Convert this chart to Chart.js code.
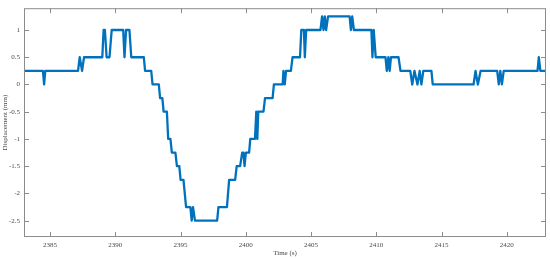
<!DOCTYPE html>
<html>
<head>
<meta charset="utf-8">
<script src="https://cdn.jsdelivr.net/npm/chart.js@4"></script>
<style>
  html, body { margin: 0; padding: 0; background: #fff; }
  canvas { display: block; }
</style>
</head>
<body>
<canvas id="chart" width="550" height="258"></canvas>
<script>
// Vertices of the displacement trace (time in s, displacement in mm)
const times = [
  2383.0, 2384.45, 2384.54, 2384.63, 2387.14, 2387.27, 2387.45, 2387.6,
  2389.0, 2389.1, 2389.2, 2389.33, 2389.55, 2389.72, 2390.6, 2390.7,
  2390.82, 2391.08, 2391.22, 2392.18, 2392.28, 2392.75, 2392.85, 2393.33,
  2393.43, 2393.6, 2393.7, 2393.95, 2394.05, 2394.22, 2394.33, 2394.6,
  2394.72, 2394.9, 2395.0, 2395.22, 2395.42, 2395.75, 2395.85, 2395.95,
  2396.1, 2397.8, 2397.9, 2398.55, 2398.72, 2399.18, 2399.3, 2399.56,
  2399.72, 2399.82, 2399.9, 2400.0, 2400.25, 2400.34, 2400.7, 2400.8,
  2400.88, 2400.95, 2401.35, 2401.47, 2402.05, 2402.15, 2402.82, 2402.88,
  2402.98, 2403.08, 2403.45, 2403.58, 2404.15, 2404.25, 2404.45, 2404.52,
  2404.62, 2405.72, 2405.84, 2405.95, 2406.05, 2406.15, 2406.3, 2407.95,
  2408.05, 2408.15, 2408.28, 2409.62, 2409.7, 2409.8, 2409.95, 2410.7,
  2410.8, 2410.92, 2411.02, 2411.12, 2411.7, 2411.85, 2412.6, 2412.75,
  2412.92, 2413.15, 2413.32, 2413.45, 2413.6, 2414.22, 2414.32, 2417.45,
  2417.6, 2417.78, 2417.99, 2419.26, 2419.38, 2419.5, 2419.62, 2419.76,
  2422.35, 2422.45, 2422.57, 2423.0
];
const displacement = [
  0.25, 0.25, 0, 0.25, 0.25, 0.5, 0.25, 0.5,
  0.5, 1, 1, 0.5, 0.5, 1, 1, 0.5,
  1, 1, 0.5, 0.5, 0.25, 0.25, 0, 0,
  -0.25, -0.25, -0.5, -0.5, -1, -1, -1.25, -1.25,
  -1.5, -1.5, -1.75, -1.75, -2.25, -2.25, -2.5, -2.25,
  -2.5, -2.5, -2.25, -2.25, -1.75, -1.75, -1.5, -1.5,
  -1.25, -1.25, -1.5, -1.25, -1.25, -1, -1, -0.5,
  -1, -0.5, -0.5, -0.25, -0.25, 0, 0, 0.25,
  0, 0.25, 0.25, 0.5, 0.5, 1, 1, 0.5,
  1, 1, 1.25, 1, 1.25, 1, 1.25, 1.25,
  1, 1.25, 1, 1, 0.5, 1, 0.5, 0.5,
  0.25, 0.5, 0.25, 0.5, 0.5, 0.25, 0.25, 0,
  0.25, 0, 0.25, 0, 0.25, 0.25, 0, 0,
  0.25, 0, 0.25, 0.25, 0, 0.25, 0, 0.25,
  0.25, 0.5, 0.25, 0.25
];

const xTicks = [2385, 2390, 2395, 2400, 2405, 2410, 2415, 2420];
const yTicks = [-2.5, -2, -1.5, -1, -0.5, 0, 0.5, 1];

const axisColor = '#8c8c8c';
const textColor = '#4a4a4a';
const fontFamily = '"Liberation Serif", "Times New Roman", serif';

// Box around the plot with inward ticks on all four sides (MATLAB look)
const boxTicks = {
  id: 'boxTicks',
  afterDatasetsDraw(chart) {
    const { ctx, chartArea: a, scales: { x, y } } = chart;
    const len = 5;
    ctx.save();
    ctx.strokeStyle = axisColor;
    ctx.lineWidth = 1;
    ctx.strokeRect(a.left + 0.5, a.top + 0.5, a.right - a.left - 1, a.bottom - a.top - 1);
    ctx.beginPath();
    x.ticks.forEach(t => {
      const px = Math.round(x.getPixelForValue(t.value)) + 0.5;
      ctx.moveTo(px, a.bottom); ctx.lineTo(px, a.bottom - len);
      ctx.moveTo(px, a.top); ctx.lineTo(px, a.top + len);
    });
    y.ticks.forEach(t => {
      const py = Math.round(y.getPixelForValue(t.value)) + 0.5;
      ctx.moveTo(a.left, py); ctx.lineTo(a.left + len, py);
      ctx.moveTo(a.right, py); ctx.lineTo(a.right - len, py);
    });
    ctx.stroke();
    ctx.restore();
  }
};

new Chart(document.getElementById('chart').getContext('2d'), {
  type: 'line',
  data: {
    datasets: [{
      data: times.map((t, i) => ({ x: t, y: displacement[i] })),
      borderColor: '#0072BD',
      borderWidth: 2.3,
      borderJoinStyle: 'round',
      borderCapStyle: 'round',
      pointRadius: 0,
      tension: 0,
      fill: false
    }]
  },
  options: {
    responsive: false,
    animation: false,
    devicePixelRatio: 1,
    layout: { padding: { top: 5, right: 4, left: 0, bottom: 0 } },
    plugins: {
      legend: { display: false },
      tooltip: { enabled: false }
    },
    scales: {
      x: {
        type: 'linear',
        min: 2383,
        max: 2423,
        grid: { display: false, drawTicks: false, tickLength: 0 },
        border: { display: false },
        afterBuildTicks: s => { s.ticks = xTicks.map(v => ({ value: v })); },
        afterFit: s => { s.height = 21; },
        ticks: {
          autoSkip: false,
          maxRotation: 0,
          padding: 4,
          color: textColor,
          font: { family: fontFamily, size: 7 },
          callback: v => String(v)
        },
        title: {
          display: true,
          text: 'Time (s)',
          color: textColor,
          font: { family: fontFamily, size: 7 },
          padding: { top: 0, bottom: 0.5 }
        }
      },
      y: {
        min: -2.8,
        max: 1.4,
        grid: { display: false, drawTicks: false, tickLength: 0 },
        border: { display: false },
        afterBuildTicks: s => { s.ticks = yTicks.map(v => ({ value: v })); },
        afterFit: s => { s.width = 24; },
        ticks: {
          padding: 4,
          color: textColor,
          font: { family: fontFamily, size: 7 },
          callback: v => String(v)
        },
        title: {
          display: true,
          text: 'Displacement (mm)',
          color: textColor,
          font: { family: fontFamily, size: 7 },
          padding: { top: 1, bottom: 0 }
        }
      }
    }
  },
  plugins: [boxTicks]
});
</script>
</body>
</html>
